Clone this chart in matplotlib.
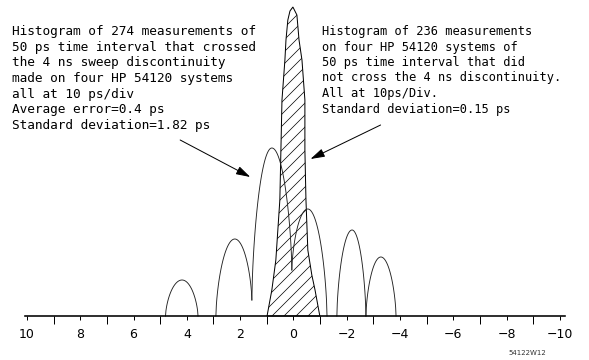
import numpy as np
import matplotlib
matplotlib.use("Agg")
import matplotlib.pyplot as plt
from matplotlib.ticker import FixedLocator, FuncFormatter

# histogram of 274 measurements (crossed the discontinuity), drawn as lobes
# each lobe: left x, left height, peak x, peak height, right x, right height
lobe_left_x = [4.80, 2.91, 1.56, 0.06, -1.63, -2.72]
lobe_left_h = [0, 0, 16, 46, 0, 0]
lobe_peak_x = [4.18, 2.20, 0.81, -0.54, -2.20, -3.28]
lobe_peak_h = [36, 77, 168, 107, 86, 59]
lobe_right_x = [3.58, 1.56, 0.06, -1.26, -2.72, -3.85]
lobe_right_h = [0, 16, 46, 0, 0, 0]

# histogram of 236 measurements (did not cross), outline of hatched peak
narrow_x = [0.99, 0.81, 0.66, 0.51, 0.47, 0.43, 0.32, 0.28, 0.21, 0.13, 0.02,
            -0.13, -0.21, -0.32, -0.43, -0.43, -0.47, -0.54, -0.69, -0.81, -0.99]
narrow_h = [0, 26, 56, 116, 166, 216, 256, 276, 296, 305, 309,
            301, 276, 256, 216, 166, 116, 66, 41, 26, 0]

tick_labels = [10, 8, 6, 4, 2, 0, -2, -4, -6, -8, -10]

left_note = ("Histogram of 274 measurements of\n"
             "50 ps time interval that crossed\n"
             "the 4 ns sweep discontinuity\n"
             "made on four HP 54120 systems\n"
             "all at 10 ps/div\n"
             "Average error=0.4 ps\n"
             "Standard deviation=1.82 ps")
right_note = ("Histogram of 236 measurements\n"
              "on four HP 54120 systems of\n"
              "50 ps time interval that did\n"
              "not cross the 4 ns discontinuity.\n"
              "All at 10ps/Div.\n"
              "Standard deviation=0.15 ps")

plt.rcParams['hatch.linewidth'] = 0.7
plt.rcParams['axes.unicode_minus'] = True

fig = plt.figure(figsize=(589 / 72, 360 / 72), dpi=72)
ax = fig.add_axes([0, 0, 1, 1])
ax.set_xlim(11.01, -11.09)
ax.set_ylim(-44, 316)

# hatched narrow peak
ax.fill(narrow_x, narrow_h, facecolor="white", edgecolor="black",
        hatch="//", linewidth=1.0, zorder=2)


def arch(x0, h0, x1, h1, rising):
    t = np.linspace(0, 1, 40)
    xs = x0 + (x1 - x0) * t
    if rising:
        f = (1 - (1 - t) ** 2) ** 0.65
        ys = h0 + (h1 - h0) * f
    else:
        f = (1 - t ** 2) ** 0.65
        ys = h1 + (h0 - h1) * f
    return xs, ys


for i in range(len(lobe_peak_x)):
    xa, ya = arch(lobe_left_x[i], lobe_left_h[i], lobe_peak_x[i], lobe_peak_h[i], True)
    xb, yb = arch(lobe_peak_x[i], lobe_peak_h[i], lobe_right_x[i], lobe_right_h[i], False)
    ax.plot(np.concatenate([xa, xb]), np.concatenate([ya, yb]),
            color="#222222", linewidth=0.9, zorder=3)

# axis
for s in ["top", "right", "left"]:
    ax.spines[s].set_visible(False)
ax.spines["bottom"].set_position(("data", 0))
ax.spines["bottom"].set_bounds(10.07, -10.2)
ax.spines["bottom"].set_linewidth(1.6)
ax.spines["bottom"].set_zorder(4)
ax.yaxis.set_visible(False)
ax.xaxis.set_major_locator(FixedLocator(tick_labels))
ax.xaxis.set_minor_locator(FixedLocator([9, 7, 5, 3, 1, -1, -3, -5, -7, -9]))
ax.xaxis.set_major_formatter(FuncFormatter(lambda v, p: f"{v:.0f}".replace("-", "\u2212")))
ax.tick_params(axis="x", which="major", direction="out", length=4, width=1,
               pad=8, labelsize=12.5)
ax.tick_params(axis="x", which="minor", direction="out", length=8, width=1)

# notes and arrows
ax.text(12 / 589, 1 - 25 / 360, left_note, transform=ax.transAxes,
        family="DejaVu Sans Mono", fontsize=12.8, va="top", ha="left",
        linespacing=1.27)
ax.text(322 / 589, 1 - 25 / 360, right_note, transform=ax.transAxes,
        family="DejaVu Sans Mono", fontsize=12, va="top", ha="left",
        linespacing=1.25)

ax.annotate("", xy=(1.62, 139), xytext=(4.25, 176),
            arrowprops=dict(arrowstyle="-|>,head_length=1.0,head_width=0.3",
                            color="black", lw=1.0, shrinkA=0, shrinkB=0),
            fontsize=12)
ax.annotate("", xy=(-0.64, 157), xytext=(-3.27, 191),
            arrowprops=dict(arrowstyle="-|>,head_length=1.0,head_width=0.3",
                            color="black", lw=1.0, shrinkA=0, shrinkB=0),
            fontsize=12)

ax.text(527 / 589, 1 - 353 / 360, "54122W12", transform=ax.transAxes,
        fontsize=7, ha="center", va="center", color="#333333")

fig.savefig("out.png", dpi=72)
